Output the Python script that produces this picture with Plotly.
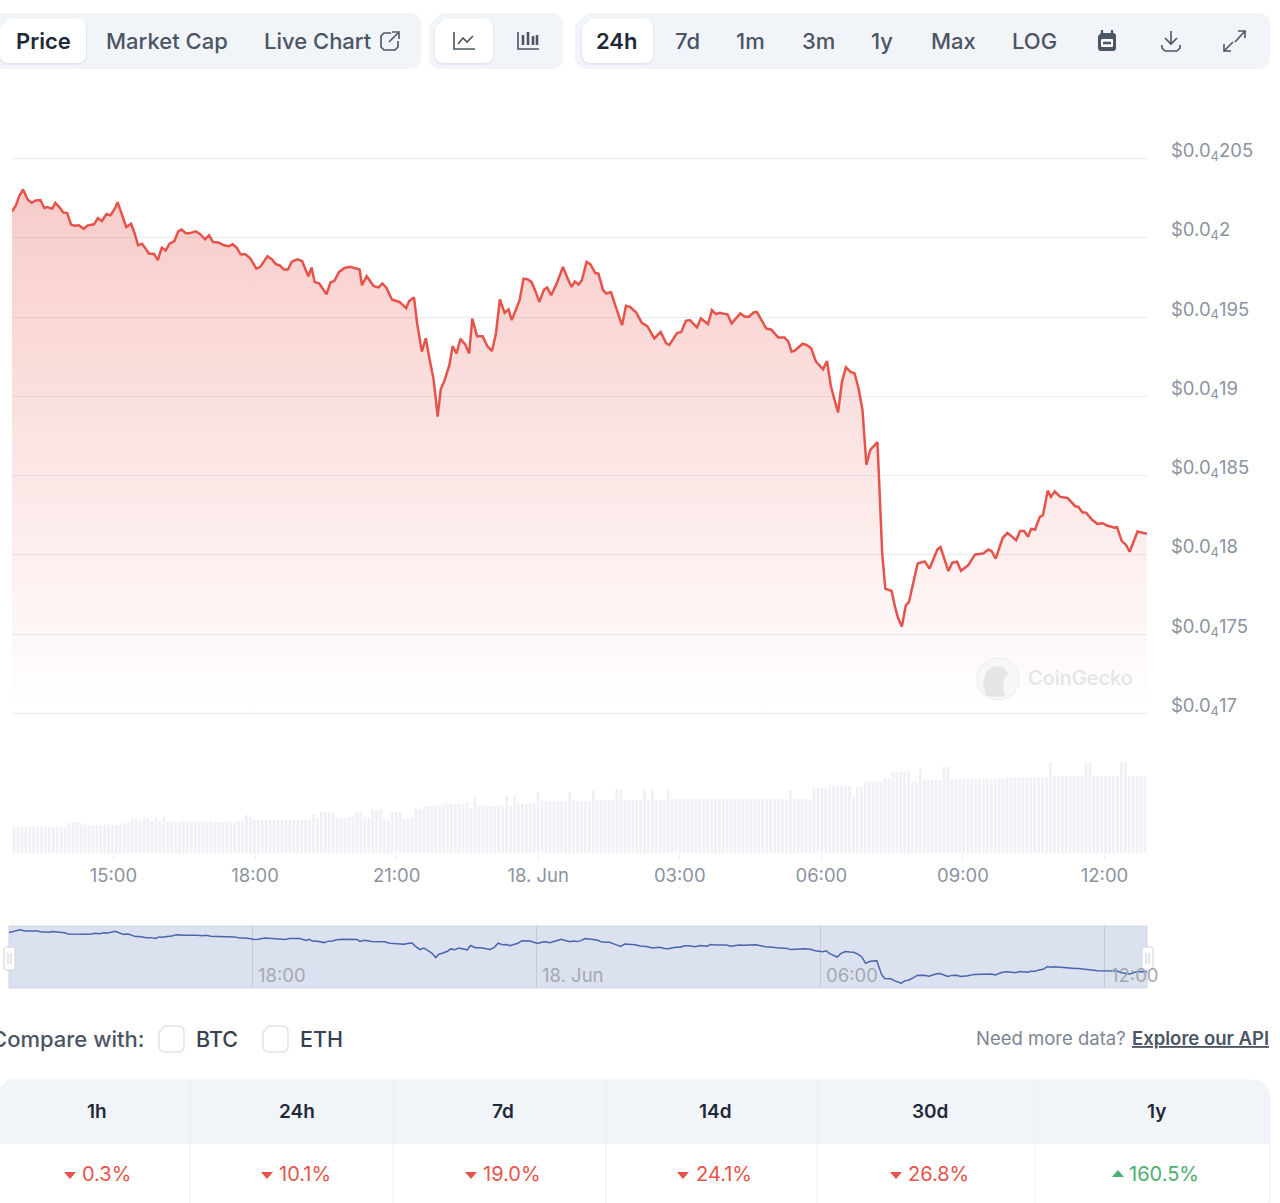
import pandas as pd
import plotly.graph_objects as go

W, H = 1280, 1203

# ---------- data ----------
price_minutes = [0,5,9,14,20,25,30,36,41,45,51,55,60,65,70,75,80,85,91,96,104,109,114,120,125,131,134,140,145,151,155,160,165,174,180,185,190,195,200,206,211,215,221,226,233,238,245,250,255,262,269,275,280,285,290,296,302,310,315,324,330,335,340,345,350,355,362,368,376,380,384,390,399,404,409,415,422,429,441,444,450,459,465,470,475,482,492,500,504,510,514,520,525,530,535,540,544,549,555,559,564,569,575,580,584,590,597,603,609,614,619,625,630,634,644,649,654,659,664,669,675,679,684,691,699,705,710,714,719,723,729,734,740,744,750,754,760,766,774,779,784,792,799,806,815,823,830,834,844,849,855,860,869,874,883,888,893,898,908,913,924,930,935,941,945,957,963,972,980,985,989,993,1003,1008,1014,1020,1029,1034,1039,1048,1053,1058,1064,1069,1074,1079,1084,1089,1098,1101,1104,1108,1116,1120,1124,1129,1134,1138,1144,1149,1158,1164,1174,1178,1188,1193,1199,1204,1213,1222,1232,1239,1243,1248,1257,1263,1274,1279,1284,1289,1293,1298,1304,1308,1314,1318,1323,1330,1339,1349,1353,1358,1363,1370,1377,1384,1389,1399,1402,1408,1413,1418,1428,1440]
price_values = [20.165,20.204,20.261,20.305,20.240,20.221,20.236,20.238,20.188,20.194,20.183,20.221,20.194,20.160,20.156,20.083,20.077,20.079,20.056,20.079,20.085,20.125,20.106,20.150,20.142,20.188,20.225,20.142,20.068,20.089,20.037,19.953,19.963,19.900,19.900,19.859,19.938,19.921,19.963,19.980,20.041,20.053,20.028,20.030,20.041,20.026,19.991,20.016,19.974,19.970,19.953,19.947,19.959,19.938,19.896,19.896,19.873,19.806,19.817,19.884,19.863,19.833,19.825,19.800,19.800,19.850,19.865,19.854,19.758,19.812,19.722,19.712,19.643,19.718,19.729,19.785,19.810,19.817,19.800,19.701,19.758,19.695,19.687,19.712,19.685,19.611,19.594,19.557,19.601,19.624,19.460,19.282,19.366,19.229,19.104,18.873,19.045,19.104,19.198,19.317,19.271,19.363,19.328,19.271,19.491,19.380,19.380,19.317,19.286,19.397,19.611,19.527,19.548,19.481,19.607,19.743,19.739,19.722,19.665,19.596,19.674,19.686,19.638,19.711,19.816,19.743,19.690,19.724,19.705,19.732,19.848,19.833,19.778,19.774,19.669,19.649,19.657,19.565,19.449,19.571,19.565,19.529,19.464,19.443,19.366,19.407,19.334,19.324,19.401,19.405,19.477,19.481,19.435,19.491,19.456,19.544,19.519,19.527,19.516,19.460,19.523,19.502,19.502,19.529,19.533,19.428,19.422,19.372,19.372,19.345,19.282,19.288,19.332,19.324,19.303,19.219,19.171,19.223,19.062,18.898,19.093,19.183,19.154,19.145,19.051,18.915,18.569,18.663,18.711,18.370,18.013,17.787,17.772,17.678,17.605,17.548,17.682,17.703,17.825,17.946,17.959,17.913,18.034,18.049,17.898,17.951,17.957,17.900,17.934,18.003,18.009,18.034,18.024,17.976,18.108,18.139,18.093,18.150,18.150,18.114,18.164,18.160,18.240,18.250,18.405,18.366,18.401,18.366,18.359,18.307,18.303,18.269,18.265,18.223,18.196,18.200,18.185,18.171,18.175,18.087,18.066,18.020,18.148,18.133]
volume_values = [26,26,26,26,26,26,26,26,26,26,26,26,26,26,30,31,31,30,28,28,28,28,28,29,28,28,28,29,30,30,34,34,33,36,35,32,36,33,36,31,31,31,31,32,31,31,31,31,31,31,32,31,31,31,31,31,31,32,32,38,36,33,33,33,33,33,33,33,33,33,33,33,33,33,33,33,39,35,41,41,41,40,35,35,35,36,36,41,41,36,35,43,43,43,34,33,41,41,41,34,34,35,44,44,46,47,47,47,48,48,49,49,49,49,49,51,45,56,47,47,47,47,47,47,47,57,47,57,49,49,49,50,50,61,52,52,52,52,52,52,52,61,52,52,52,52,52,63,53,53,53,53,53,64,64,53,52,53,53,53,64,53,64,53,53,53,64,54,54,54,54,54,54,54,54,54,54,54,54,54,54,54,54,54,54,54,54,54,54,54,54,54,54,54,54,54,54,63,54,54,54,54,54,65,65,65,65,67,67,67,67,67,67,56,66,66,71,71,71,71,71,75,75,80,81,81,81,82,71,71,84,73,73,73,73,73,86,86,74,74,74,74,74,74,74,74,74,74,74,74,74,74,76,76,76,76,76,76,76,76,76,76,76,91,77,77,77,77,77,77,77,77,91,91,77,77,77,77,77,77,77,91,91,77,77,77,77,77]
price_ticks = [17.0,17.5,18.0,18.5,19.0,19.5,20.0,20.5]
price_tick_labels = ["$0.0<sub>4</sub>17","$0.0<sub>4</sub>175","$0.0<sub>4</sub>18","$0.0<sub>4</sub>185","$0.0<sub>4</sub>19","$0.0<sub>4</sub>195","$0.0<sub>4</sub>2","$0.0<sub>4</sub>205"]
time_ticks = ["2024-06-17 15:00","2024-06-17 18:00","2024-06-17 21:00","2024-06-18 00:00","2024-06-18 03:00","2024-06-18 06:00","2024-06-18 09:00","2024-06-18 12:00"]
time_tick_labels = ["15:00","18:00","21:00","18. Jun","03:00","06:00","09:00","12:00"]
nav_ticks = ["2024-06-17 18:00","2024-06-18 00:00","2024-06-18 06:00","2024-06-18 12:00"]
nav_tick_labels = ["18:00","18. Jun","06:00","12:00"]
period_labels = ["1h","24h","7d","14d","30d","1y"]
period_changes = ["0.3%","10.1%","19.0%","24.1%","26.8%","160.5%"]
period_up = [False,False,False,False,False,True]

# ---------- time scale ----------
start = pd.Timestamp("2024-06-17 12:51")
span = 1443
cal = span / 1440
price_times = [start + pd.Timedelta(minutes=m * cal) for m in price_minutes]
volume_times = [start + pd.Timedelta(minutes=(i + 0.5) * 5 * cal) for i in range(len(volume_values))]
x_range = [start, start + pd.Timedelta(minutes=span)]

RED = "#e5534b"
GREEN = "#4caf6e"
PANEL = "#f1f4f9"
FONT = "Inter"

# ---------- helpers for page furniture ----------
def X(x): return x / W
def Y(y): return 1 - y / H

shapes, notes = [], []

def pt(x, y): return f"{X(x):.5f},{Y(y):.5f}"

def rrect_path(x0, y0, x1, y1, r, tl=True, tr=True, br=True, bl=True):
    p = []
    p.append("M" + pt(x0 + (r if tl else 0), y0))
    p.append("L" + pt(x1 - (r if tr else 0), y0))
    if tr: p.append("Q" + pt(x1, y0) + " " + pt(x1, y0 + r))
    p.append("L" + pt(x1, y1 - (r if br else 0)))
    if br: p.append("Q" + pt(x1, y1) + " " + pt(x1 - r, y1))
    p.append("L" + pt(x0 + (r if bl else 0), y1))
    if bl: p.append("Q" + pt(x0, y1) + " " + pt(x0, y1 - r))
    p.append("L" + pt(x0, y0 + (r if tl else 0)))
    p.append("Z")
    return " ".join(p)

def add_path(path, fill=None, line=None, lw=1):
    shapes.append(dict(type="path", xref="paper", yref="paper", path=path, layer="below",
                       fillcolor=fill or "rgba(0,0,0,0)",
                       line=dict(color=line or "rgba(0,0,0,0)", width=lw if line else 0)))

def rrect(x0, y0, x1, y1, r, fill=None, line=None, lw=1, **kw):
    add_path(rrect_path(x0, y0, x1, y1, r, **kw), fill, line, lw)

def poly(pts, fill=None, line=None, lw=1.6, closed=False):
    s = "M" + " L".join(pt(*p) for p in pts) + (" Z" if closed else "")
    add_path(s, fill, line, lw)

def button(x0, y0, x1, y1):
    rrect(x0 - 1, y0, x1 + 1, y1 + 2, 10, fill="rgba(30,40,70,0.06)")
    rrect(x0, y0, x1, y1, 9, fill="#ffffff")

def label(text, x, y, size=22, color="#4b5563", anchor="center", weight=500):
    notes.append(dict(text=text, x=X(x), y=Y(y), xref="paper", yref="paper", showarrow=False,
                      xanchor=anchor, yanchor="middle",
                      font=dict(family=FONT, size=size, color=color, weight=weight)))

# toolbar
rrect(-12, 13, 421, 69, 12, fill=PANEL)
rrect(429, 13, 563, 69, 12, fill=PANEL)
rrect(575, 13, 1270, 69, 12, fill=PANEL)
button(0, 19, 86, 63)
button(435, 19, 493, 63)
button(582, 19, 653, 63)
label("Price", 43, 41, color="#1f2937", weight=600)
label("Market Cap", 167, 41)
label("Live Chart", 318, 41)
label("24h", 617, 41, color="#1f2937", weight=600)
for t, cx in [("7d", 687), ("1m", 750), ("3m", 818), ("1y", 882), ("Max", 953), ("LOG", 1034)]:
    label(t, cx, 41)

DARK = "#4b5563"
# external-link icon
poly([(391, 33), (384, 33), (381, 36), (381, 47), (384, 50), (395, 50), (398, 47), (398, 41)], line=DARK)
poly([(389, 42), (398, 33)], line=DARK)
poly([(392, 32), (399, 32), (399, 39)], line=DARK)
# line-chart icon
poly([(454, 32), (454, 49), (475, 49)], line=DARK)
poly([(458, 44), (463, 38), (467, 42), (473, 36)], line=DARK)
# candles icon
poly([(518, 32), (518, 49), (539, 49)], line=DARK)
for cx, a, b in [(523, 35, 45), (528, 32, 45), (533, 36, 45), (537, 35, 45)]:
    poly([(cx, a), (cx, b)], line=DARK, lw=2.6)
# calendar icon
rrect(1098, 33, 1116, 51, 3, fill=DARK)
poly([(1102, 30), (1102, 35)], line=DARK, lw=2.2)
poly([(1112, 30), (1112, 35)], line=DARK, lw=2.2)
rrect(1101, 39, 1113, 47, 1, fill="#ffffff")
poly([(1103, 43), (1111, 43)], line=DARK, lw=2.6)
# download icon
poly([(1171, 31), (1171, 44)], line=DARK)
poly([(1165, 38), (1171, 44), (1177, 38)], line=DARK)
poly([(1162, 45), (1162, 48), (1165, 51), (1177, 51), (1180, 48), (1180, 45)], line=DARK)
# expand icon
poly([(1235, 42), (1245, 31)], line=DARK)
poly([(1238, 31), (1245, 31), (1245, 38)], line=DARK)
poly([(1224, 51), (1233, 42)], line=DARK)
poly([(1224, 44), (1224, 51), (1231, 51)], line=DARK)

# watermark
shapes.append(dict(type="circle", xref="paper", yref="paper", layer="above",
                   x0=X(977), x1=X(1019), y0=Y(658), y1=Y(700),
                   fillcolor="rgba(245,245,246,0.75)", line=dict(color="#ebecee", width=1)))
shapes.append(dict(type="path", xref="paper", yref="paper", layer="above", line=dict(width=0),
                   fillcolor="rgba(226,227,230,0.9)",
                   path="M" + " L".join(pt(*p) for p in [(986, 696), (983, 684), (986, 672), (994, 666),
                                                         (1003, 667), (1009, 674), (1004, 678), (1003, 688), (1005, 697)]) + " Z"))
label("CoinGecko", 1080, 678, size=20, color="#e3e4e7", weight=500)

# navigator background and handles
rrect(9, 926, 1147, 988, 0, fill="#dce1ef", line="#ced3e2", lw=1)
rrect(4, 947, 15, 970, 2, fill="#ffffff", line="#cfd3da", lw=1)
poly([(8, 953), (8, 964)], line="#c4c9d2", lw=1)
poly([(11, 953), (11, 964)], line="#c4c9d2", lw=1)
rrect(1142, 947, 1153, 970, 2, fill="#ffffff", line="#cfd3da", lw=1)
poly([(1146, 953), (1146, 964)], line="#c4c9d2", lw=1)
poly([(1149, 953), (1149, 964)], line="#c4c9d2", lw=1)
for t, txt, dx in zip(nav_ticks, nav_tick_labels, [3, 3, 3, 5]):
    notes.append(dict(text=txt, x=t, y=Y(975), xref="x3", yref="paper", xshift=dx, showarrow=False,
                      xanchor="left", yanchor="middle",
                      font=dict(family=FONT, size=18.5, color="#a3a9b3")))

# compare row
label("Compare with:", 146, 1039, anchor="right")
rrect(159, 1026, 184, 1052, 6, fill="#ffffff", line="#dfe3ea", lw=1.5)
label("BTC", 217, 1039, color="#374151", size=21.5)
rrect(263, 1026, 288, 1052, 6, fill="#ffffff", line="#dfe3ea", lw=1.5)
label("ETH", 321, 1039, color="#374151", size=21.5)
label("Need more data?", 1128, 1038, size=18.5, color="#7d8593", anchor="right", weight=400)
label("<u>Explore our API</u>", 1271, 1038, size=18.5, color="#4b5563", anchor="right", weight=600)

# table
rrect(-12, 1080, 1270, 1216, 20, fill="#ffffff", line="#eef0f4", lw=1)
rrect(-12, 1080, 1270, 1144, 20, fill=PANEL, br=False, bl=False)
for sx in [190, 393, 606, 817, 1035]:
    poly([(sx, 1080), (sx, 1203)], line="#ebeef3", lw=1)
head_x = [97, 297, 503, 715, 930, 1156]
val_x = [106, 305, 512, 724, 938, 1164]
tri_x = [70, 267, 471, 683, 896, 1118]
for lab, chg, up, hx, vx, tx in zip(period_labels, period_changes, period_up, head_x, val_x, tri_x):
    label(lab, hx, 1111, size=19, color="#1f2937", weight=600)
    c = GREEN if up else RED
    label(chg, vx, 1174, size=20, color=c, weight=400)
    if up:
        poly([(tx - 6, 1177), (tx + 6, 1177), (tx, 1170)], fill=c, closed=True)
    else:
        poly([(tx - 6, 1172), (tx + 6, 1172), (tx, 1179)], fill=c, closed=True)

# ---------- figure ----------
fig = go.Figure()
fig.add_trace(go.Bar(x=volume_times, y=volume_values, xaxis="x2", yaxis="y2",
                     marker=dict(color="#eff1f6", line=dict(width=0))))
fig.add_trace(go.Scatter(x=price_times, y=price_values, xaxis="x", yaxis="y", mode="lines",
                         line=dict(color=RED, width=2.5),
                         fill="tozeroy",
                         fillgradient=dict(type="vertical", start=17.0, stop=20.31,
                                           colorscale=[[0, "rgba(229,83,75,0)"], [1, "rgba(229,83,75,0.30)"]])))
fig.add_trace(go.Scatter(x=price_times, y=price_values, xaxis="x3", yaxis="y3", mode="lines",
                         line=dict(color="#4a64ad", width=1.5)))

main_dom = [X(12), X(1147)]
tickfont = dict(family=FONT, size=18.5, color="#8b93a1")
fig.update_layout(
    width=W, height=H, margin=dict(l=0, r=0, t=0, b=0, pad=0, autoexpand=False), autosize=False,
    paper_bgcolor="#ffffff", plot_bgcolor="rgba(0,0,0,0)", showlegend=False, hovermode=False,
    bargap=0.3, shapes=shapes, annotations=notes,
    xaxis=dict(domain=main_dom, range=x_range, type="date", anchor="y", showgrid=False,
               zeroline=False, showticklabels=False, ticks=""),
    yaxis=dict(domain=[Y(716.6), Y(155.4)], range=[16.98, 20.52], anchor="x", side="right",
               tickvals=price_ticks, ticktext=price_tick_labels, tickfont=tickfont,
               gridcolor="#e9ebef", gridwidth=1, zeroline=False, showline=False, ticks="",
               ticklabelstandoff=23, ticklabelshift=-8),
    xaxis2=dict(domain=main_dom, range=x_range, type="date", anchor="y2", showgrid=False,
                zeroline=False, tickvals=time_ticks, ticktext=time_tick_labels, tickfont=tickfont,
                ticks="outside", ticklen=6, tickcolor="#eceef2", tickwidth=1, showline=False),
    yaxis2=dict(domain=[Y(853), Y(753)], range=[0, 100], anchor="x2", visible=False),
    xaxis3=dict(domain=[X(9), X(1147)], range=x_range, type="date", anchor="y3", tickvals=nav_ticks,
                showticklabels=False, showgrid=True, gridcolor="#c5cad9", gridwidth=1,
                zeroline=False, ticks=""),
    yaxis3=dict(domain=[Y(988), Y(926)], range=[17.3, 20.5], anchor="x3", visible=False),
)

fig.write_html("out.html", config={"displayModeBar": False, "staticPlot": True},
               post_script="document.body.style.margin='0';document.documentElement.style.overflow='hidden';")
